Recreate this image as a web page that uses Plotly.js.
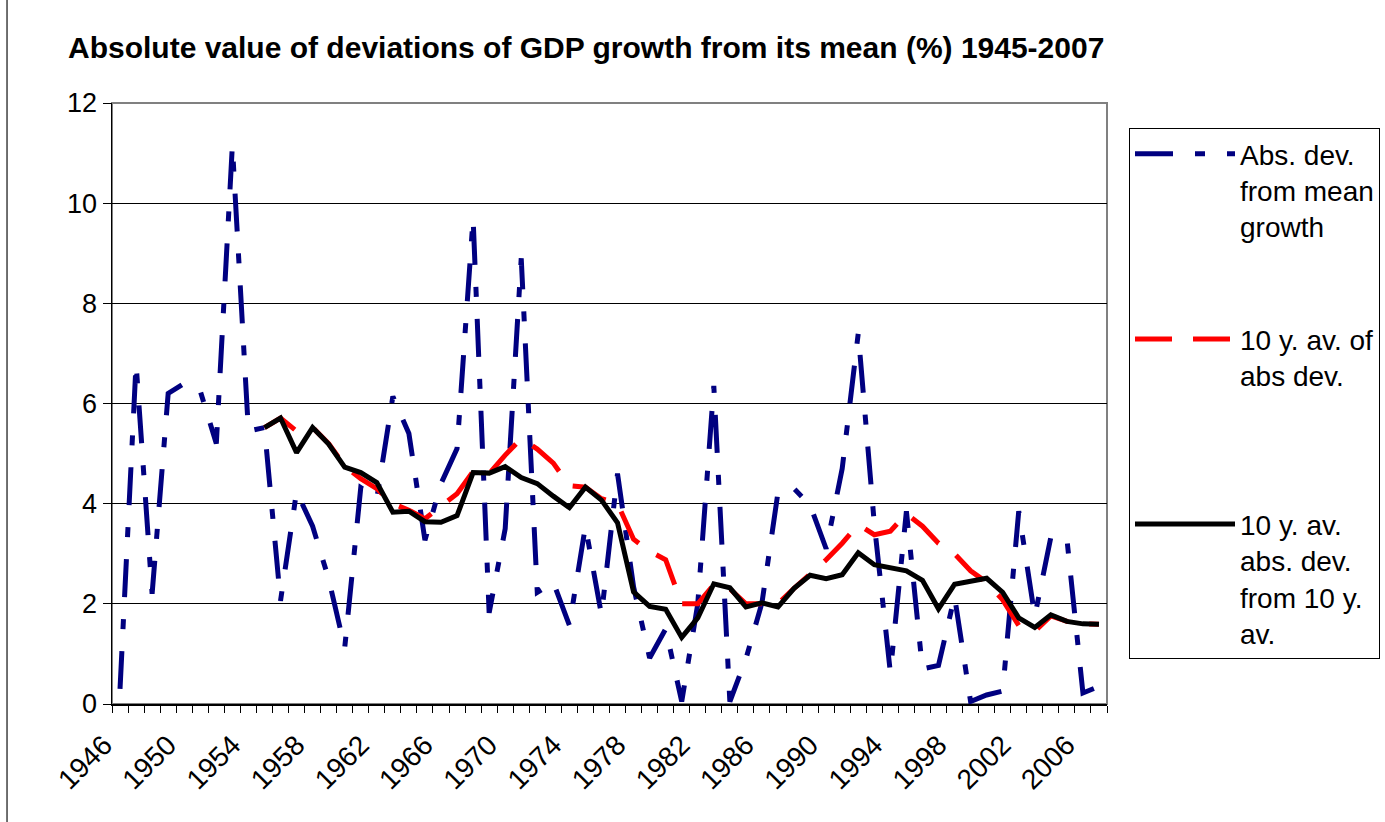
<!DOCTYPE html>
<html>
<head>
<meta charset="utf-8">
<script src="https://cdn.plot.ly/plotly-3.0.1.min.js"></script>
<style>
  html, body { margin: 0; padding: 0; background: #fff; }
  #chart { width: 1385px; height: 822px; }
</style>
</head>
<body>
<div id="chart"></div>
<script>
// years shown on the category axis
var years = [1946, 1947, 1948, 1949, 1950, 1951, 1952, 1953, 1954, 1955,
             1956, 1957, 1958, 1959, 1960, 1961, 1962, 1963, 1964, 1965,
             1966, 1967, 1968, 1969, 1970, 1971, 1972, 1973, 1974, 1975,
             1976, 1977, 1978, 1979, 1980, 1981, 1982, 1983, 1984, 1985,
             1986, 1987, 1988, 1989, 1990, 1991, 1992, 1993, 1994, 1995,
             1996, 1997, 1998, 1999, 2000, 2001, 2002, 2003, 2004, 2005,
             2006, 2007]

var labelYears = [1946, 1950, 1954, 1958, 1962, 1966, 1970, 1974,
                  1978, 1982, 1986, 1990, 1994, 1998, 2002, 2006]

// absolute deviation of GDP growth from mean growth (%)
var absDev = [0.3, 6.8, 2.2, 6.2, 6.4, 6.25, 5.2, 11.15, 5.45, 5.52,
              2.06, 4.24, 3.55, 2.5, 1.12, 4.32, 4.1, 6.14, 5.4, 3.27,
              4.4, 5.1, 9.7, 1.82, 3.5, 8.9, 2.23, 2.43, 1.57, 3.55,
              1.78, 4.6, 2.34, 0.92, 1.5, 0.05, 2.0, 6.35, 0.05, 0.9,
              2.02, 4.23, 4.3, 3.97, 3.1, 4.7, 7.4, 3.6, 0.63, 3.85,
              0.7, 0.77, 2.15, 0.05, 0.18, 0.26, 3.85, 1.75, 3.33, 3.3,
              0.22, 0.35]

// 10 year average of the absolute deviation
var avAbsDev = [null, null, null, null, null, null, null, null, null, 5.52,
                5.71, 5.45, 5.52, 5.2, 4.75, 4.5, 4.3, 4.0, 3.87, 3.7,
                3.95, 4.2, 4.64, 4.6, 4.97, 5.3, 5.09, 4.81, 4.36, 4.33,
                4.1, 4.0, 3.29, 3.05, 2.88, 2.0, 2.0, 2.38, 2.3, 2.0,
                2.0, 2.0, 2.31, 2.6, 2.88, 3.21, 3.58, 3.38, 3.45, 3.8,
                3.55, 3.21, 3.0, 2.66, 2.43, 2.08, 1.57, 1.45, 1.76, 1.65,
                1.6, 1.59]

// 10 year average of absolute deviation from the 10 year average
var avDevFromAv = [null, null, null, null, null, null, null, null, null, 5.52,
                   5.71, 5.02, 5.52, 5.19, 4.73, 4.62, 4.42, 3.83, 3.85, 3.64,
                   3.63, 3.76, 4.62, 4.61, 4.74, 4.52, 4.4, 4.15, 3.92, 4.33,
                   4.07, 3.62, 2.24, 1.95, 1.89, 1.33, 1.72, 2.4, 2.32, 1.94,
                   2.02, 1.94, 2.31, 2.57, 2.5, 2.58, 3.02, 2.78, 2.72, 2.66,
                   2.47, 1.9, 2.39, 2.45, 2.51, 2.23, 1.72, 1.53, 1.78, 1.65,
                   1.6, 1.59]

var FONT = 'Liberation Sans, Arial, sans-serif'

var traceAbs = {
  x: years, y: absDev,
  mode: 'lines',
  name: 'Abs. dev.<br>from mean<br>growth',
  legendgroup: 'a',
  line: { color: '#000080', width: 5, dash: '38px,22px,10px,22px' }
}

var traceAv = {
  x: years, y: avAbsDev,
  mode: 'lines',
  name: '10 y. av. of<br>abs dev.<br>&nbsp;',
  legendgroup: 'b',
  line: { color: '#ff0000', width: 5, dash: '37px,21px' }
}

var traceAvDev = {
  x: years, y: avDevFromAv,
  mode: 'lines',
  name: '10 y. av.<br>abs. dev.<br>from 10 y.<br>av.',
  legendgroup: 'c',
  line: { color: '#000000', width: 5 }
}

var layout = {
  width: 1385,
  height: 822,
  margin: { l: 112, r: 278, t: 103, b: 118 },
  paper_bgcolor: '#ffffff',
  plot_bgcolor: '#ffffff',
  font: { family: FONT, color: '#000', size: 26 },
  title: {
    text: '<b>Absolute value of deviations of GDP growth from its mean (%) 1945-2007</b>',
    font: { family: FONT, size: 30, color: '#000' },
    xref: 'container', x: 68 / 1385, xanchor: 'left',
    yref: 'container', y: 1 - 47 / 822, yanchor: 'middle'
  },
  xaxis: {
    range: [1945.5, 2007.5],
    tickmode: 'array',
    // labels sit at the left edge of their year
    tickvals: labelYears.map(function (y) { return y - 0.5 }),
    ticktext: labelYears.map(String),
    tickangle: -45,
    ticks: 'outside', ticklen: 7, tickcolor: '#000', tickwidth: 1,
    minor: { tickmode: 'linear', tick0: 1945.5, dtick: 1, ticks: 'outside',
             ticklen: 7, tickcolor: '#000', tickwidth: 1, showgrid: false },
    ticklabelstandoff: 5,
    ticklabelshift: -8,
    tickfont: { family: FONT, size: 28, color: '#000' },
    showgrid: false, zeroline: false,
    showline: true, linecolor: '#000', linewidth: 1.5
  },
  yaxis: {
    range: [0, 12],
    dtick: 2,
    ticks: 'outside', ticklen: 8, tickcolor: '#000', tickwidth: 1,
    tickfont: { family: FONT, size: 27, color: '#000' },
    showgrid: true, gridcolor: '#000', gridwidth: 1,
    zeroline: false,
    showline: true, linecolor: '#000', linewidth: 1.5
  },
  showlegend: true,
  legend: {
    xref: 'container', x: 1129 / 1385, xanchor: 'left',
    yref: 'container', y: 1 - 128 / 822, yanchor: 'top',
    maxheight: 700,
    bgcolor: '#ffffff',
    bordercolor: '#000', borderwidth: 1,
    font: { family: FONT, size: 28, color: '#000' },
    valign: 'top',
    traceorder: 'grouped',
    tracegroupgap: 73,
    itemwidth: 100
  },
  shapes: [
    // grey frame of the plot area
    { type: 'rect', xref: 'paper', yref: 'paper', x0: 0, x1: 1, y0: 0, y1: 1,
      line: { color: '#808080', width: 2 }, layer: 'below' },
    // left edge of the chart area
    { type: 'line', xref: 'paper', yref: 'paper', x0: -0.1055, x1: -0.1055,
      y0: -0.3, y1: 1.3, line: { color: '#404040', width: 1.5 } }
  ]
}

Plotly.newPlot('chart', [traceAbs, traceAv, traceAvDev], layout, { displayModeBar: false, staticPlot: true })
</script>
</body>
</html>
